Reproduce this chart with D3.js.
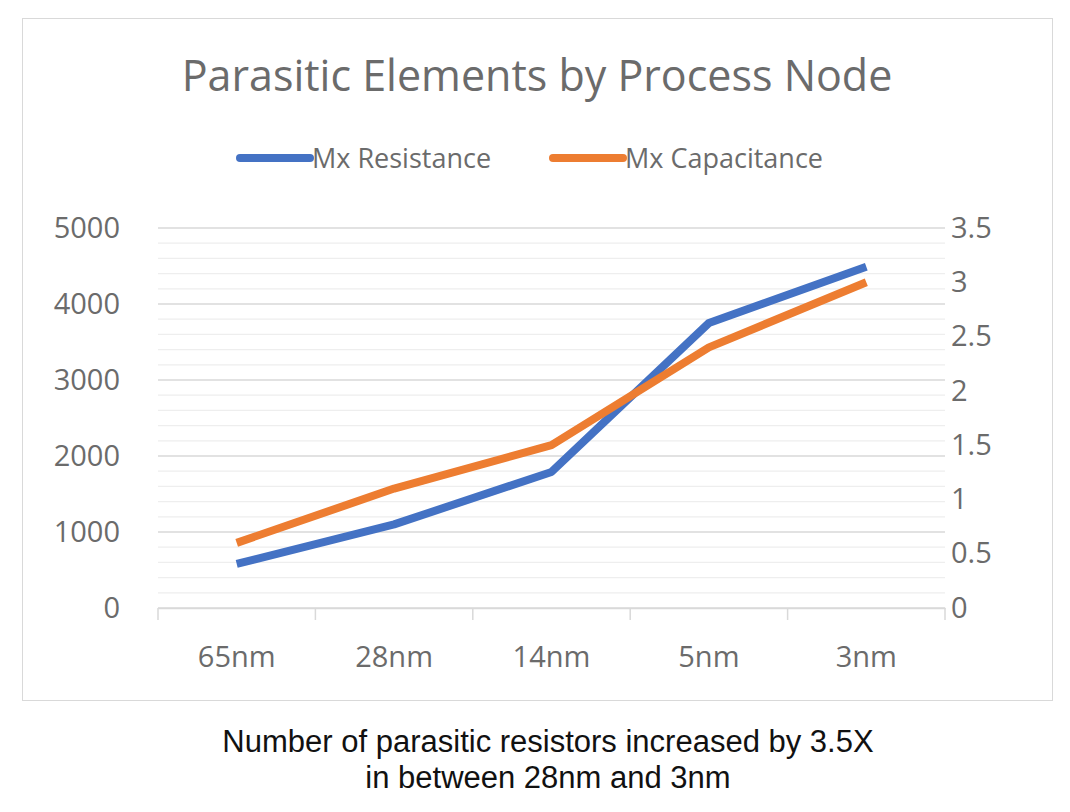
<!DOCTYPE html>
<html><head><meta charset="utf-8">
<script src="https://cdn.jsdelivr.net/npm/d3@7"></script>
<style>body{margin:0;background:#fff}</style>
</head><body>
<svg id="c" width="1070" height="812"></svg>
<script>
var nodes = ["65nm", "28nm", "14nm", "5nm", "3nm"];
var resistance = [580, 1100, 1790, 3750, 4490];
var capacitance = [0.6, 1.1, 1.5, 2.4, 3.0];
var leftTicks = [0, 1000, 2000, 3000, 4000, 5000];
var rightTicks = [0, 0.5, 1, 1.5, 2, 2.5, 3, 3.5];

var svg = d3.select("#c");
var font = "'Open Sans', sans-serif";
var grey = "#6b6b6b";
svg.append("rect").attr("x", 22.5).attr("y", 18.5).attr("width", 1030).attr("height", 682)
    .attr("fill", "#fff").attr("stroke", "#d9d9d9");

var x = d3.scaleBand().domain(nodes).range([158, 945]);
var yL = d3.scaleLinear().domain([0, 5000]).range([608, 228]);
var yR = d3.scaleLinear().domain([0, 3.5]).range([608, 228]);

// minor gridlines
var g = svg.append("g");
g.selectAll("line.minor").data(d3.range(0, 5001, 200).filter(function(v) { return v % 1000; }))
    .enter().append("line")
    .attr("x1", 158).attr("x2", 945)
    .attr("y1", function(d) { return yL(d); }).attr("y2", function(d) { return yL(d); })
    .attr("stroke", "#eeeeee").attr("stroke-width", 1.3);
g.selectAll("line.major").data(leftTicks).enter().append("line")
    .attr("x1", 158).attr("x2", 945)
    .attr("y1", function(d) { return yL(d); }).attr("y2", function(d) { return yL(d); })
    .attr("stroke", "#d9d9d9").attr("stroke-width", 1.5);

// x axis
var xa = svg.append("g").attr("transform", "translate(0,608)")
    .call(d3.axisBottom(x).tickSize(0).tickPadding(38));
xa.select(".domain").attr("stroke", "#d9d9d9").attr("stroke-width", 1.5);
xa.selectAll("text").attr("font-family", font).attr("font-size", 29).attr("fill", grey);
var edges = nodes.map(function(d) { return x(d); }).concat([945]);
xa.selectAll("line.sep").data(edges).enter().append("line")
    .attr("x1", function(d) { return d; }).attr("x2", function(d) { return d; })
    .attr("y1", 0).attr("y2", 12).attr("stroke", "#d9d9d9").attr("stroke-width", 1.5);

var la = svg.append("g").attr("transform", "translate(123,0)")
    .call(d3.axisLeft(yL).tickValues(leftTicks).tickSize(0).tickFormat(d3.format("d")));
la.select(".domain").remove();
la.selectAll("text").attr("font-family", font).attr("font-size", 29).attr("fill", grey);

var ra = svg.append("g").attr("transform", "translate(948,0)")
    .call(d3.axisRight(yR).tickValues(rightTicks).tickSize(0).tickFormat(d3.format("~g")));
ra.select(".domain").remove();
ra.selectAll("text").attr("font-family", font).attr("font-size", 29).attr("fill", grey);

var cx = function(d, i) { return x(nodes[i]) + x.bandwidth() / 2; };
svg.append("path").datum(resistance)
    .attr("d", d3.line().x(cx).y(function(d) { return yL(d); }))
    .attr("fill", "none").attr("stroke", "#4472c4").attr("stroke-width", 8).attr("stroke-linejoin", "round");
svg.append("path").datum(capacitance)
    .attr("d", d3.line().x(cx).y(function(d) { return yR(d); }))
    .attr("fill", "none").attr("stroke", "#ed7d31").attr("stroke-width", 8).attr("stroke-linejoin", "round");

svg.append("text").attr("x", 537).attr("y", 91).attr("text-anchor", "middle")
    .attr("font-family", font).attr("font-size", 43).attr("fill", grey)
    .text("Parasitic Elements by Process Node");

var legend = [["Mx Resistance", "#4472c4", 240], ["Mx Capacitance", "#ed7d31", 553]];
legend.forEach(function(l) {
    svg.append("line").attr("x1", l[2]).attr("x2", l[2] + 70).attr("y1", 158).attr("y2", 158)
        .attr("stroke", l[1]).attr("stroke-width", 8).attr("stroke-linecap", "round");
    svg.append("text").attr("x", l[2] + 72).attr("y", 168).attr("font-family", font)
        .attr("font-size", 27).attr("fill", grey).text(l[0]);
});

var caption = ["Number of parasitic resistors increased by 3.5X", "in between 28nm and 3nm"];
svg.selectAll("text.cap").data(caption).enter().append("text")
    .attr("x", 548).attr("y", function(d, i) { return 752 + i * 36; })
    .attr("text-anchor", "middle").attr("font-family", "'Liberation Sans', Arial, sans-serif")
    .attr("font-size", 31).attr("fill", "#111").text(function(d) { return d; });
</script>
</body></html>
